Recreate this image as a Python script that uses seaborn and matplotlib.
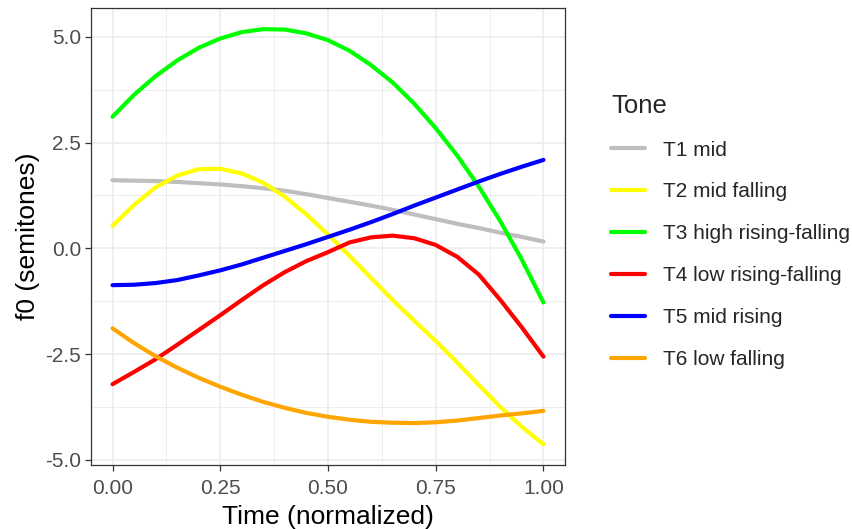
import numpy as np
import pandas as pd
import matplotlib
matplotlib.use("Agg")
import matplotlib.pyplot as plt
import seaborn as sns
from matplotlib.ticker import FixedLocator, FormatStrFormatter

time = [0.00, 0.05, 0.10, 0.15, 0.20, 0.25, 0.30, 0.35, 0.40, 0.45, 0.50,
        0.55, 0.60, 0.65, 0.70, 0.75, 0.80, 0.85, 0.90, 0.95, 1.00]

t1_mid = [1.61, 1.60, 1.59, 1.57, 1.54, 1.51, 1.47, 1.42, 1.36, 1.28, 1.19,
          1.10, 1.01, 0.91, 0.80, 0.69, 0.58, 0.48, 0.37, 0.27, 0.16]
t2_mid_falling = [0.53, 1.03, 1.44, 1.72, 1.87, 1.88, 1.77, 1.55, 1.22, 0.80, 0.33,
                  -0.18, -0.70, -1.22, -1.71, -2.19, -2.70, -3.23, -3.75, -4.22, -4.63]
t3_high_rising_falling = [3.11, 3.63, 4.07, 4.44, 4.74, 4.96, 5.11, 5.18, 5.17, 5.08, 4.92,
                          4.67, 4.33, 3.92, 3.42, 2.84, 2.19, 1.46, 0.64, -0.27, -1.28]
t4_low_rising_falling = [-3.21, -2.92, -2.62, -2.28, -1.93, -1.58, -1.22, -0.87, -0.56, -0.30, -0.09,
                         0.14, 0.26, 0.30, 0.24, 0.08, -0.20, -0.62, -1.22, -1.87, -2.56]
t5_mid_rising = [-0.87, -0.86, -0.82, -0.75, -0.64, -0.52, -0.38, -0.22, -0.06, 0.10, 0.27,
                 0.44, 0.62, 0.81, 1.01, 1.20, 1.39, 1.58, 1.76, 1.93, 2.09]
t6_low_falling = [-1.89, -2.24, -2.55, -2.82, -3.06, -3.27, -3.46, -3.63, -3.77, -3.89, -3.98,
                  -4.05, -4.10, -4.12, -4.13, -4.11, -4.07, -4.01, -3.95, -3.90, -3.84]

tones = ["T1 mid", "T2 mid falling", "T3 high rising-falling",
         "T4 low rising-falling", "T5 mid rising", "T6 low falling"]
colors = ["#BEBEBE", "#FFFF00", "#00FF00", "#FF0000", "#0000FF", "#FFA500"]
x_ticks = [0.00, 0.25, 0.50, 0.75, 1.00]
y_ticks = [-5.0, -2.5, 0.0, 2.5, 5.0]

series = [t1_mid, t2_mid_falling, t3_high_rising_falling,
          t4_low_rising_falling, t5_mid_rising, t6_low_falling]
df = pd.concat([pd.DataFrame({"Time": time, "f0": vals, "Tone": name})
                for name, vals in zip(tones, series)], ignore_index=True)

sns.set_theme(style="white")
plt.rcParams["font.family"] = ["Liberation Sans", "DejaVu Sans"]
plt.rcParams["axes.unicode_minus"] = False

fig = plt.figure(figsize=(8.53, 5.29), dpi=100)
ax = fig.add_axes([91/853, 1-465/529, (565-91)/853, (465-8)/529])

sns.lineplot(data=df, x="Time", y="f0", hue="Tone", hue_order=tones,
             palette=dict(zip(tones, colors)), linewidth=3.0, ax=ax,
             estimator=None, sort=True)

ax.set_xlim(-0.05, 1.05)
ax.set_ylim(-5.12, 5.68)
ax.xaxis.set_major_locator(FixedLocator(x_ticks))
ax.yaxis.set_major_locator(FixedLocator(y_ticks))
ax.xaxis.set_minor_locator(FixedLocator([0.125, 0.375, 0.625, 0.875]))
ax.yaxis.set_minor_locator(FixedLocator([-3.75, -1.25, 1.25, 3.75]))
ax.xaxis.set_major_formatter(FormatStrFormatter("%.2f"))
ax.yaxis.set_major_formatter(FormatStrFormatter("%.1f"))
ax.grid(True, which="major", color="#EBEBEB", linewidth=1.1, zorder=0)
ax.grid(True, which="minor", color="#EBEBEB", linewidth=0.6, zorder=0)
ax.set_axisbelow(True)
for s in ax.spines.values():
    s.set_color("#333333")
    s.set_linewidth(0.9)
ax.tick_params(axis="both", which="major", length=4, width=0.9, color="#333333",
               labelcolor="#4D4D4D", labelsize=15, pad=3, direction="out",
               bottom=True, left=True)
ax.tick_params(axis="x", which="major", pad=6)
ax.tick_params(axis="both", which="minor", length=0)
ax.set_xlabel("Time (normalized)", fontsize=19, color="black", labelpad=5)
ax.set_ylabel("f0 (semitones)", fontsize=19, color="black", labelpad=4)

handles, labels = ax.get_legend_handles_labels()
ax.legend(handles, labels, title="Tone", loc="upper left",
          bbox_to_anchor=(603/853, 1-86/529), bbox_transform=fig.transFigure,
          frameon=False, fontsize=15, title_fontsize=18.5, alignment="left",
          handlelength=1.6, handletextpad=0.9, labelspacing=1.1,
          borderaxespad=0)
leg = ax.get_legend()
leg._legend_box.sep = 16

fig.savefig("out.png", dpi=100)
